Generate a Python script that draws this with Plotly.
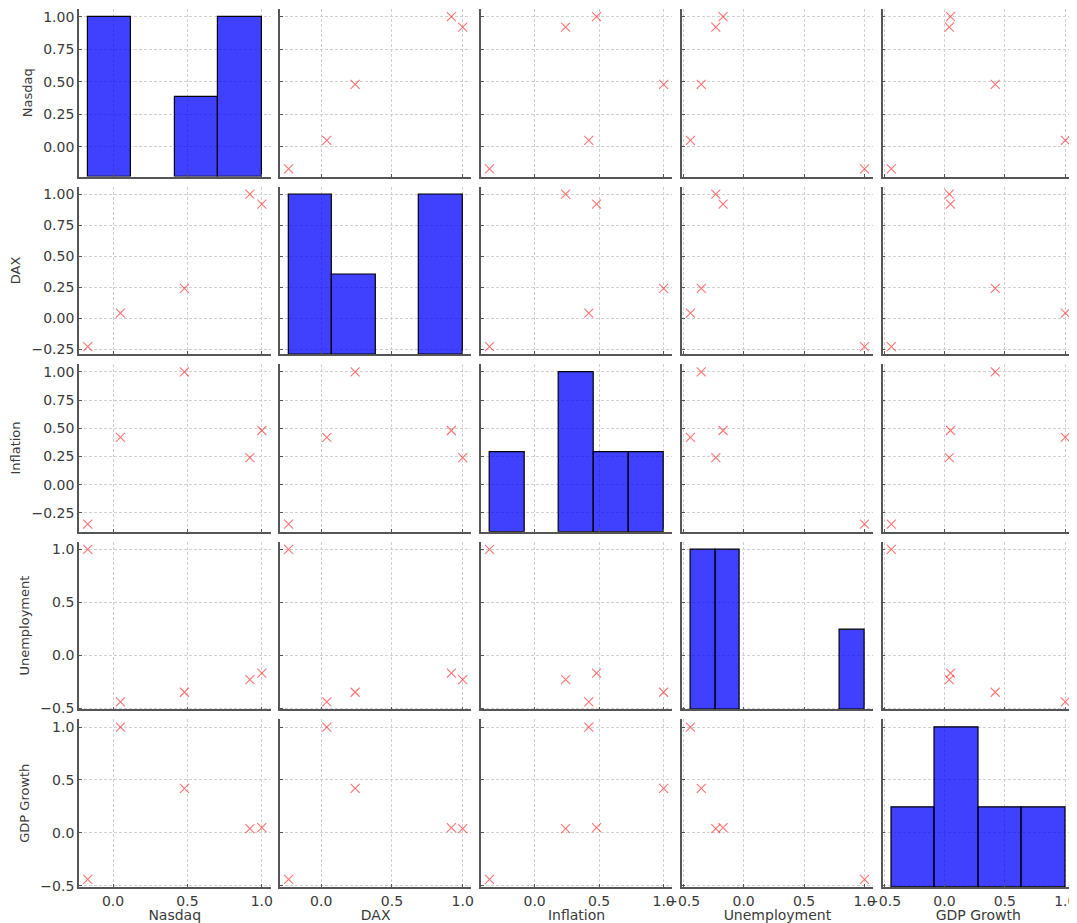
import numpy as np
import plotly.graph_objects as go

variables = ["Nasdaq", "DAX", "Inflation", "Unemployment", "GDP Growth"]
nasdaq = [1.00, 0.92, 0.48, -0.17, 0.05]
dax = [0.92, 1.00, 0.24, -0.23, 0.04]
inflation = [0.48, 0.24, 1.00, -0.35, 0.42]
unemployment = [-0.17, -0.23, -0.35, 1.00, -0.44]
gdp_growth = [0.05, 0.04, 0.42, -0.44, 1.00]
hist_bins = [4, 4, 5, 7, 4]
y_dticks = [0.25, 0.25, 0.25, 0.5, 0.5]
x_dticks = [0.5, 0.5, 0.5, 0.5, 0.5]

data = [nasdaq, dax, inflation, unemployment, gdp_growth]
n = len(variables)

# the page body adds an 8px offset, so the figure is sized to fit the window
W, H = 1069, 915
ml, mr, mt, mb = 71, 3, 1, 35
pw, ph = W - ml - mr, H - mt - mb
cw, gx = 191.5, 9.4
rh, gy = 167.6, 10.0

def xdom(c):
    a = c * (cw + gx)
    return [a / pw, min(1, (a + cw) / pw)]

def ydom(r):
    top = r * (rh + gy)
    return [max(0, 1 - (top + rh) / ph), 1 - top / ph]

def rng(v):
    lo, hi = min(v), max(v)
    s = hi - lo
    return [lo - 0.05 * s, hi + 0.05 * s]

fig = go.Figure()
layout = {}
spine = "#555555"
grid = "#d0d0d0"
tickfont = dict(family="DejaVu Sans", size=14, color="#3a3a3a")
xtitlefont = dict(family="DejaVu Sans", size=14, color="#3a3a3a")
ytitlefont = dict(family="DejaVu Sans", size=13, color="#3a3a3a")

for r in range(n):
    for c in range(n):
        k = r * n + c + 1
        xa = "x" if k == 1 else f"x{k}"
        ya = "y" if k == 1 else f"y{k}"
        xdt = x_dticks[c]
        ydt = y_dticks[r]
        layout["xaxis" if k == 1 else f"xaxis{k}"] = dict(
            domain=xdom(c), anchor=ya, range=rng(data[c]),
            dtick=xdt, tick0=0, tickformat=".1f" if xdt >= 0.5 else ".2f",
            showticklabels=(r == n - 1), ticks="inside", ticklen=3,
            tickcolor=spine, showline=True, linecolor=spine, linewidth=1.7,
            showgrid=True, gridcolor=grid, griddash="3px,2px", gridwidth=0.8,
            zeroline=False, tickfont=tickfont, automargin=False,
            title=dict(text=variables[c] if r == n - 1 else "", font=xtitlefont, standoff=3),
        )
        layout["yaxis" if k == 1 else f"yaxis{k}"] = dict(
            domain=ydom(r), anchor=xa, range=rng(data[r]),
            dtick=ydt, tick0=0, tickformat=".1f" if ydt >= 0.5 else ".2f",
            showticklabels=(c == 0), ticks="inside", ticklen=3,
            tickcolor=spine, showline=True, linecolor=spine, linewidth=1.7,
            showgrid=True, gridcolor=grid, griddash="3px,2px", gridwidth=0.8,
            zeroline=False, tickfont=tickfont, automargin=False,
            title=dict(text=variables[r] if c == 0 else "", font=ytitlefont, standoff=8),
        )
        if r != c:
            fig.add_trace(go.Scatter(
                x=data[c], y=data[r], mode="markers", xaxis=xa, yaxis=ya,
                marker=dict(symbol="x-thin", size=9, color="rgba(255,0,0,0.55)",
                            line=dict(color="rgba(255,0,0,0.55)", width=1.1)),
                showlegend=False, hoverinfo="x+y",
            ))
        else:
            # invisible anchor trace so the row/column axes of this cell get drawn
            fig.add_trace(go.Scatter(
                x=data[c], y=data[r], mode="markers", xaxis=xa, yaxis=ya,
                marker=dict(size=1, opacity=0), showlegend=False, hoverinfo="skip",
            ))
            counts, edges = np.histogram(data[c], bins=hist_bins[c])
            centers = (edges[:-1] + edges[1:]) / 2
            widths = np.diff(edges)
            ov = 25 + c + 1
            layout[f"yaxis{ov}"] = dict(
                domain=ydom(r), anchor=xa, overlaying=ya,
                range=[0, counts.max() * 1.05], visible=False,
            )
            fig.add_trace(go.Bar(
                x=centers, y=counts, width=widths, xaxis=xa, yaxis=f"y{ov}",
                marker=dict(color="rgba(0,0,255,0.75)",
                            line=dict(color="black", width=[1.2 if v > 0 else 0 for v in counts])),
                showlegend=False,
            ))

fig.update_layout(
    width=W, height=H, margin=dict(l=ml, r=mr, t=mt, b=mb),
    plot_bgcolor="white", paper_bgcolor="white", bargap=0,
    font=dict(family="DejaVu Sans"),
    **layout,
)
fig.write_html("out.html")
